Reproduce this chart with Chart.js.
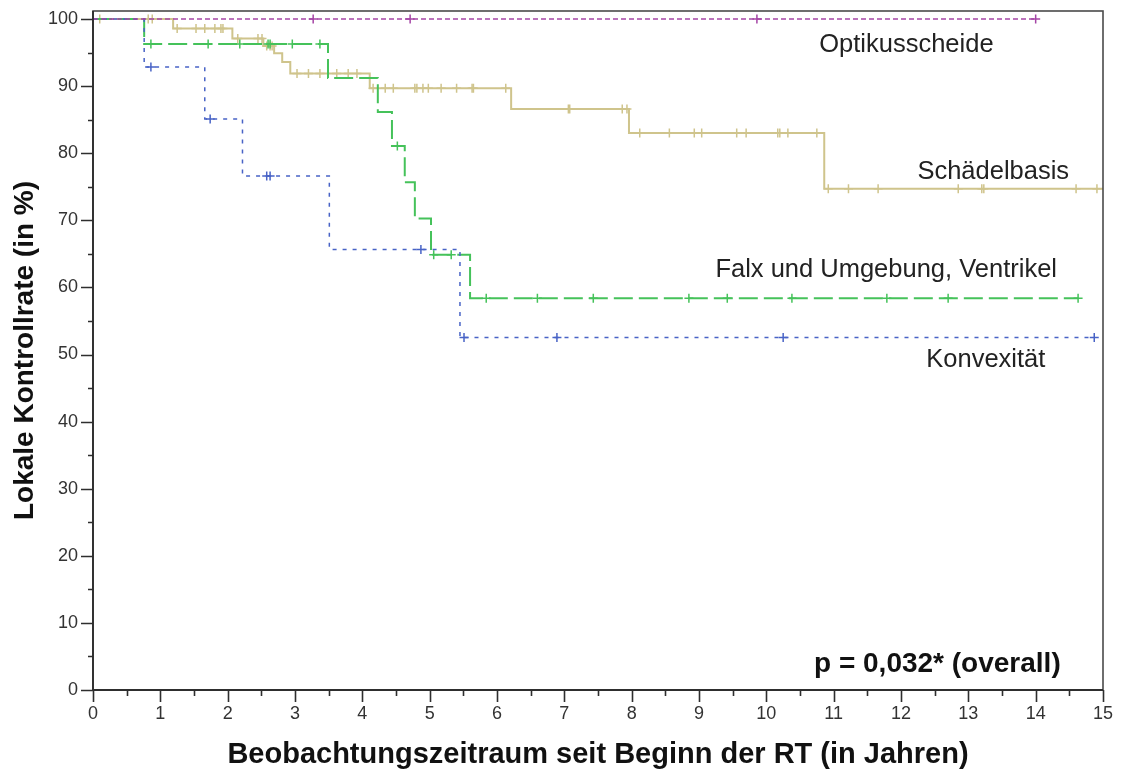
<!DOCTYPE html>
<html lang="de">
<head>
<meta charset="utf-8">
<title>Lokale Kontrollrate nach Lokalisation</title>
<script src="https://cdn.jsdelivr.net/npm/chart.js@4.4.1/dist/chart.umd.min.js"></script>
<style>
html, body { margin: 0; padding: 0; background: #fff; }
#wrap { width: 1121px; height: 769px; }
</style>
</head>
<body>
<div id="wrap"><canvas id="km" width="1121" height="769"></canvas></div>
<script>
// Kaplan-Meier-Kurven: Ereigniszeitpunkte (Jahre) und Kontrollrate (%) danach
const optikStepTimes = [];
const optikStepLevels = [];
const optikCensored = [3.27, 4.71, 9.86, 14.0];
const optikEnd = 14.0;

const schaedelStepTimes = [1.19, 2.07, 2.53, 2.69, 2.81, 2.93, 4.11, 6.21, 7.96, 10.86];
const schaedelStepLevels = [98.6, 97.1, 96.0, 94.9, 93.6, 91.9, 89.7, 86.6, 83.0, 74.7];
const schaedelCensored = [0.1, 0.82, 0.88, 1.25, 1.53, 1.66, 1.81, 1.9, 1.93, 2.15, 2.45, 2.51,
  2.58, 2.63, 2.66, 3.03, 3.2, 3.37, 3.62, 3.79, 3.92, 4.16, 4.34, 4.46, 4.78, 4.81, 4.9, 4.98,
  5.17, 5.4, 5.63, 5.65, 6.13, 7.06, 7.08, 7.86, 7.93, 8.12, 8.56, 8.93, 9.04, 9.56, 9.7,
  10.17, 10.2, 10.32, 10.75, 10.92, 11.22, 11.66, 12.85, 13.2, 13.23, 14.6, 14.91];
const schaedelEnd = 15.0;

const falxStepTimes = [0.76, 3.49, 4.23, 4.44, 4.63, 4.78, 5.02, 5.6];
const falxStepLevels = [96.3, 91.23, 86.16, 81.09, 75.69, 70.28, 64.87, 58.39];
const falxCensored = [0.86, 1.71, 2.18, 2.6, 2.63, 2.96, 3.37, 4.52, 5.06, 5.32,
  5.84, 6.6, 7.43, 8.85, 9.42, 10.38, 11.79, 12.7, 14.63];
const falxEnd = 14.63;

const konvexStepTimes = [0.76, 1.66, 2.22, 3.51, 5.45];
const konvexStepLevels = [92.86, 85.12, 76.61, 65.66, 52.53];
const konvexCensored = [0.86, 1.74, 2.58, 2.63, 4.87, 5.51, 6.89, 10.25, 14.87];
const konvexEnd = 14.87;

// Achsen
const xMin = 0, xMax = 15, xMajorStep = 1, xMinorStep = 0.5;
const yMin = 0, yMax = 101.2, yMajorStep = 10, yMinorStep = 5, yTopTick = 100;

// Beschriftungen im Diagramm (Datenkoordinaten)
const groupLabels = [
  { text: 'Optikusscheide', x: 12.08, y: 96.1 },
  { text: 'Schädelbasis', x: 13.37, y: 77.2 },
  { text: 'Falx und Umgebung, Ventrikel', x: 11.78, y: 62.6 },
  { text: 'Konvexität', x: 13.26, y: 49.2 }
];
const pValueLabel = { text: 'p = 0,032* (overall)', x: 12.54, y: 3.9 };

const FONT = '"Liberation Sans", Arial, sans-serif';

function stepPoints(times, levels, end) {
  const pts = [{ x: 0, y: 100 }];
  times.forEach((t, i) => pts.push({ x: t, y: levels[i] }));
  pts.push({ x: end, y: levels.length ? levels[levels.length - 1] : 100 });
  return pts;
}
function levelAt(times, levels, t) {
  let v = 100;
  times.forEach((s, i) => { if (s <= t) v = levels[i]; });
  return v;
}
function censorPoints(times, levels, censored) {
  return censored.map(t => ({ x: t, y: levelAt(times, levels, t) }));
}

const groups = [
  { name: 'Optikusscheide', color: '#a545a6', dash: [5, 3], width: 1.5,
    times: optikStepTimes, levels: optikStepLevels, cens: optikCensored, end: optikEnd },
  { name: 'Konvexität', color: '#4863c6', dash: [4, 6], width: 1.5,
    times: konvexStepTimes, levels: konvexStepLevels, cens: konvexCensored, end: konvexEnd },
  { name: 'Falx und Umgebung, Ventrikel', color: '#45c25a', dash: [19, 6], width: 2,
    times: falxStepTimes, levels: falxStepLevels, cens: falxCensored, end: falxEnd },
  { name: 'Schädelbasis', color: '#cfc48c', dash: [], width: 2,
    times: schaedelStepTimes, levels: schaedelStepLevels, cens: schaedelCensored, end: schaedelEnd }
];

const datasets = [];
groups.forEach(g => {
  datasets.push({
    label: g.name + ' (zensiert)',
    data: censorPoints(g.times, g.levels, g.cens),
    showLine: false,
    pointStyle: 'cross',
    pointRadius: 4.5,
    pointBorderWidth: 1.5,
    borderColor: g.color,
    backgroundColor: g.color,
    clip: false
  });
  datasets.push({
    label: g.name,
    data: stepPoints(g.times, g.levels, g.end),
    showLine: true,
    stepped: true,
    borderColor: g.color,
    borderWidth: g.width,
    borderDash: g.dash,
    pointRadius: 0,
    fill: false,
    clip: false
  });
});

// Rahmen, Haupt- und Nebenstriche, Beschriftungen
const framePlugin = {
  id: 'frameAndTicks',
  afterDatasetsDraw(chart) {
    const { ctx, chartArea: a, scales: { x, y } } = chart;
    ctx.save();
    ctx.strokeStyle = '#4a4a4a';
    ctx.lineWidth = 1.6;
    ctx.strokeRect(a.left, a.top, a.right - a.left, a.bottom - a.top);
    ctx.strokeStyle = '#2e2e2e';
    ctx.lineWidth = 1.8;
    ctx.beginPath();
    ctx.moveTo(a.left, a.top); ctx.lineTo(a.left, a.bottom); ctx.lineTo(a.right, a.bottom);
    ctx.stroke();
    ctx.lineWidth = 1.6;
    ctx.beginPath();
    for (let v = yMin; v <= yTopTick + 1e-9; v += yMinorStep) {
      const py = Math.round(y.getPixelForValue(v)) + 0.5;
      const len = Math.abs(v % yMajorStep) < 1e-9 ? 12 : 5;
      ctx.moveTo(a.left - len, py); ctx.lineTo(a.left, py);
    }
    for (let v = xMin; v <= xMax + 1e-9; v += xMinorStep) {
      const px = Math.round(x.getPixelForValue(v)) + 0.5;
      const len = Math.abs(v % xMajorStep) < 1e-9 ? 12 : 6;
      ctx.moveTo(px, a.bottom); ctx.lineTo(px, a.bottom + len);
    }
    ctx.stroke();
    ctx.restore();
  },
  afterDraw(chart) {
    const { ctx, scales: { x, y } } = chart;
    ctx.save();
    ctx.fillStyle = '#222';
    ctx.textAlign = 'center';
    ctx.textBaseline = 'middle';
    ctx.font = '25.5px ' + FONT;
    groupLabels.forEach(l => ctx.fillText(l.text, x.getPixelForValue(l.x), y.getPixelForValue(l.y)));
    ctx.font = 'bold 28px ' + FONT;
    ctx.fillStyle = '#111';
    ctx.fillText(pValueLabel.text, x.getPixelForValue(pValueLabel.x), y.getPixelForValue(pValueLabel.y));
    ctx.restore();
  }
};

new Chart(document.getElementById('km'), {
  type: 'scatter',
  data: { datasets },
  plugins: [framePlugin],
  options: {
    responsive: false,
    animation: false,
    devicePixelRatio: 1,
    events: [],
    layout: { padding: { top: 11, right: 18, left: 0, bottom: 0 } },
    plugins: { legend: { display: false }, tooltip: { enabled: false } },
    scales: {
      x: {
        type: 'linear', min: xMin, max: xMax,
        grid: { display: false, drawTicks: false },
        border: { display: false },
        ticks: { stepSize: xMajorStep, includeBounds: false, padding: 13, color: '#333',
          font: { family: FONT, size: 18 } },
        title: { display: true, text: 'Beobachtungszeitraum seit Beginn der RT (in Jahren)',
          color: '#111', font: { family: FONT, size: 29, weight: 'bold', lineHeight: 0.72 },
          padding: { top: 0, bottom: 4 } },
        afterFit(scale) {
          scale.height = 79;
          scale.paddingLeft = 0; scale.paddingRight = 0;
        }
      },
      y: {
        type: 'linear', min: yMin, max: yMax,
        grid: { display: false, drawTicks: false },
        border: { display: false },
        ticks: { stepSize: yMajorStep, includeBounds: false, padding: 15, color: '#333',
          font: { family: FONT, size: 18 } },
        afterBuildTicks(scale) {
          scale.ticks = scale.ticks.filter(t => t.value <= yTopTick + 1e-6);
        },
        title: { display: true, text: 'Lokale Kontrollrate (in %)',
          color: '#111', font: { family: FONT, size: 28, weight: 'bold', lineHeight: 1.2 },
          padding: { top: 8, bottom: 0 } },
        afterFit(scale) {
          scale.width = 93;
          scale.paddingTop = 0; scale.paddingBottom = 0;
        }
      }
    }
  }
});
</script>
</body>
</html>
